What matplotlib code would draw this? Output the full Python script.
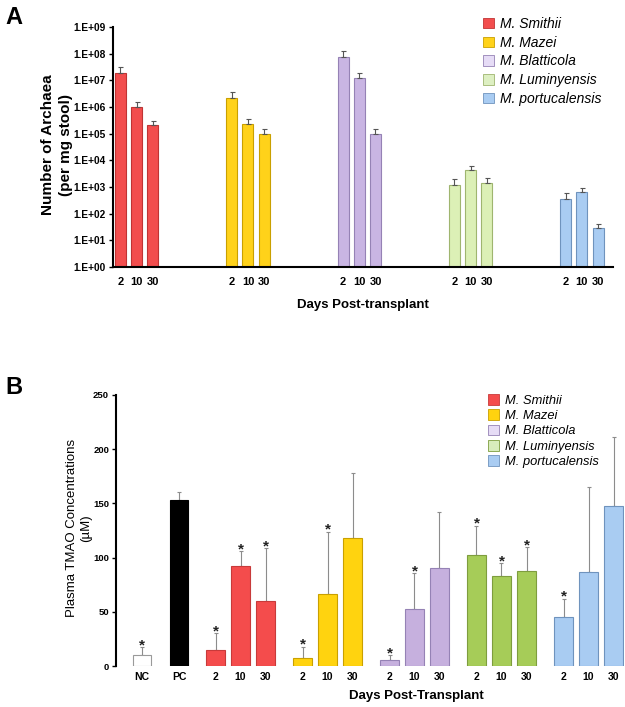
import numpy as np
import matplotlib
matplotlib.use("Agg")
import matplotlib.pyplot as plt
from matplotlib.patches import Patch

plt.rcParams['font.family'] = ['Liberation Sans', 'DejaVu Sans']

# ---------------- data ----------------
species = ["M. Smithii", "M. Mazei", "M. Blatticola", "M. Luminyensis", "M. portucalensis"]
days = ["2", "10", "30"]

# Panel A: archaea per mg stool (log scale)
a_smithii = [1.9e7, 1.0e6, 2.1e5]
a_mazei = [2.2e6, 2.3e5, 1.0e5]
a_blatticola = [7.4e7, 1.26e7, 1.0e5]
a_luminyensis = [1.2e3, 4.2e3, 1.4e3]
a_portucalensis = [3.7e2, 6.4e2, 28]
a_err_smithii = [1.3e7, 0.6e6, 0.9e5]
a_err_mazei = [1.5e6, 1.2e5, 0.45e5]
a_err_blatticola = [5.6e7, 0.6e7, 0.48e5]
a_err_luminyensis = [0.8e3, 2.1e3, 0.7e3]
a_err_portucalensis = [2.5e2, 3.1e2, 14]
a_ticklabels = ["1.E+00", "1.E+01", "1.E+02", "1.E+03", "1.E+04",
                "1.E+05", "1.E+06", "1.E+07", "1.E+08", "1.E+09"]

# Panel B: plasma TMAO (uM)
b_controls = ["NC", "PC"]
b_ctrl_vals = [10.0, 153.0]
b_ctrl_err = [7.2, 7.7]
b_ctrl_star = [True, False]
b_smithii = [14.7, 92.2, 60.2]
b_mazei = [7.1, 66.4, 117.7]
b_blatticola = [5.5, 52.8, 90.0]
b_luminyensis = [102.3, 83.2, 87.3]
b_portucalensis = [45.2, 86.4, 147.7]
b_err_smithii = [15.4, 13.5, 48.3]
b_err_mazei = [10.7, 57.4, 60.5]
b_err_blatticola = [4.3, 32.6, 52.2]
b_err_luminyensis = [27.0, 11.4, 22.1]
b_err_portucalensis = [16.8, 78.3, 63.3]
b_star_smithii = [True, True, True]
b_star_mazei = [True, True, False]
b_star_blatticola = [True, True, False]
b_star_luminyensis = [True, True, True]
b_star_portucalensis = [True, False, False]
b_yticks = [0, 50, 100, 150, 200, 250]

# ---------------- styles ----------------
a_face = ["#f24e4e", "#ffd21a", "#c9b5e3", "#dcf0b6", "#a9ccf2"]
a_edge = ["#c03434", "#c9a000", "#9582b5", "#9fb56f", "#6f93bd"]
a_leg_face = ["#f24e4e", "#ffd21a", "#e6dcf6", "#ddefc2", "#a9ccf2"]
b_face = ["#f44c4c", "#ffd30f", "#c6b0de", "#a6cc58", "#a9ccf2"]
b_edge = ["#c83a3a", "#c9a000", "#9582b5", "#7e9d3e", "#6f93bd"]
b_leg_face = ["#f44c4c", "#ffd30f", "#e6dcf6", "#d8ecbc", "#a9ccf2"]

fig = plt.figure(figsize=(6.25, 7.07), dpi=100)
W, H = 625, 707

def ax_rect(l, t, r, b):
    return [l / W, 1 - b / H, (r - l) / W, (b - t) / H]

# ---------------- Panel A ----------------
axA = fig.add_axes(ax_rect(113, 27, 613, 267))
a_vals = [a_smithii, a_mazei, a_blatticola, a_luminyensis, a_portucalensis]
a_errs = [a_err_smithii, a_err_mazei, a_err_blatticola, a_err_luminyensis, a_err_portucalensis]
gap_a = 6.87
wA = 0.68
xt, xl = [], []
for g, (vals, errs) in enumerate(zip(a_vals, a_errs)):
    x = g * gap_a + np.arange(3)
    axA.bar(x, vals, width=wA, color=a_face[g], edgecolor=a_edge[g], linewidth=0.8,
            bottom=0, zorder=2)
    axA.errorbar(x, vals, yerr=[np.zeros(3), errs], fmt='none', ecolor="#555555",
                 elinewidth=0.8, capsize=1.8, capthick=0.8, zorder=3)
    xt.extend(x)
    xl.extend(days)
axA.set_yscale('log')
axA.set_ylim(1, 1e9)
axA.set_xlim(-0.46, 30.4)
axA.set_yticks([10.0 ** k for k in range(10)])
axA.set_yticklabels(a_ticklabels)
axA.minorticks_off()
axA.set_xticks(xt)
axA.set_xticklabels(xl)
for s in ['top', 'right']:
    axA.spines[s].set_visible(False)
for s in ['left', 'bottom']:
    axA.spines[s].set_linewidth(1.5)
axA.tick_params(axis='y', direction='out', length=3, width=1, labelsize=7.3, pad=2)
axA.tick_params(axis='x', length=0, labelsize=8, pad=7)
for t in axA.get_xticklabels() + axA.get_yticklabels():
    t.set_fontweight('bold')
axA.set_xlabel("Days Post-transplant", fontsize=9.5, fontweight='bold', labelpad=9)
fig.text(57 / W, 1 - 145 / H, "Number of Archaea\n(per mg stool)", rotation=90,
         ha='center', va='center', fontsize=11, fontweight='bold', linespacing=1.3)
handlesA = [Patch(facecolor=a_leg_face[i], edgecolor=a_edge[i], linewidth=0.6, label=species[i])
            for i in range(5)]
fig.legend(handles=handlesA, loc='upper left', bbox_to_anchor=(483 / W, 1 - 17 / H),
           frameon=False, borderpad=0, borderaxespad=0, handlelength=0.78, handleheight=0.78,
           handletextpad=0.45, labelspacing=0.34, prop={'style': 'italic', 'size': 10})
fig.text(5 / W, 1 - 17 / H, "A", fontsize=17, fontweight='bold', va='center', ha='left')

# ---------------- Panel B ----------------
axB = fig.add_axes(ax_rect(116, 395, 624, 666))
b_vals = [b_smithii, b_mazei, b_blatticola, b_luminyensis, b_portucalensis]
b_errs = [b_err_smithii, b_err_mazei, b_err_blatticola, b_err_luminyensis, b_err_portucalensis]
b_stars = [b_star_smithii, b_star_mazei, b_star_blatticola, b_star_luminyensis, b_star_portucalensis]
wB = 0.73
ctrl_x = np.array([0.0, 1.5])
axB.bar(ctrl_x, b_ctrl_vals, width=wB, color=["white", "black"],
        edgecolor=["#9a9a9a", "black"], linewidth=0.8, zorder=2)
all_x = list(ctrl_x)
all_v = list(b_ctrl_vals)
all_e = list(b_ctrl_err)
all_s = list(b_ctrl_star)
xlB = list(b_controls)
gap_b = 3.48
for g in range(5):
    x = 2.95 + g * gap_b + np.arange(3)
    axB.bar(x, b_vals[g], width=wB, color=b_face[g], edgecolor=b_edge[g],
            linewidth=0.8, zorder=2)
    all_x.extend(x)
    all_v.extend(b_vals[g])
    all_e.extend(b_errs[g])
    all_s.extend(b_stars[g])
    xlB.extend(days)
all_x = np.array(all_x)
all_v = np.array(all_v)
all_e = np.array(all_e)
axB.errorbar(all_x, all_v, yerr=[np.zeros(len(all_x)), all_e], fmt='none',
             ecolor="#8c8c8c", elinewidth=0.8, capsize=1.5, capthick=0.8, zorder=1)
for x, v, e, s in zip(all_x, all_v, all_e, all_s):
    if s:
        axB.annotate("*", (x, v + e), xytext=(0, -3.5), textcoords='offset points',
                     ha='center', va='bottom', fontsize=11, fontweight='bold', color='#222222')
axB.set_ylim(0, 250)
axB.set_xlim(-1.03, 19.29)
axB.set_yticks(b_yticks)
axB.set_xticks(all_x)
axB.set_xticklabels(xlB)
for s in ['top', 'right', 'bottom']:
    axB.spines[s].set_visible(False)
axB.spines['left'].set_linewidth(1.5)
axB.tick_params(axis='y', direction='out', length=3, width=1, labelsize=6.8, pad=2)
axB.tick_params(axis='x', length=0, labelsize=7.5, pad=4)
for t in axB.get_xticklabels() + axB.get_yticklabels():
    t.set_fontweight('bold')
axB.set_xlabel("Days Post-Transplant", fontsize=9.5, fontweight='bold')
axB.xaxis.set_label_coords((416 - 116) / 508, -0.088)
fig.text(79 / W, 1 - 528 / H, "Plasma TMAO Concentrations\n(\u00b5M)", rotation=90,
         ha='center', va='center', fontsize=9.5, linespacing=1.3)
handlesB = [Patch(facecolor=b_leg_face[i], edgecolor=b_edge[i], linewidth=0.6, label=species[i])
            for i in range(5)]
fig.legend(handles=handlesB, loc='upper left', bbox_to_anchor=(488 / W, 1 - 394 / H),
           frameon=False, borderpad=0, borderaxespad=0, handlelength=0.88, handleheight=0.88,
           handletextpad=0.45, labelspacing=0.2, prop={'style': 'italic', 'size': 9.3})
fig.text(5 / W, 1 - 388 / H, "B", fontsize=17, fontweight='bold', va='center', ha='left')

fig.savefig("out.png", dpi=100)
